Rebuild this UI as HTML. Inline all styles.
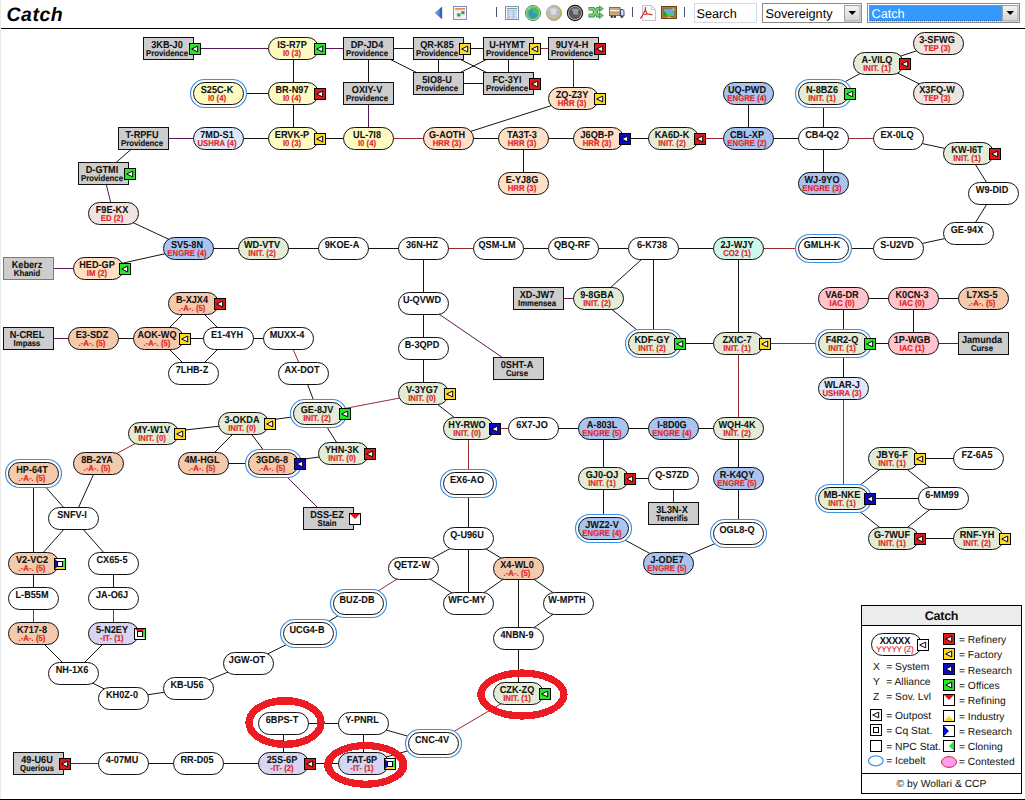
<!DOCTYPE html>
<html><head><meta charset="utf-8"><title>Catch</title>
<style>
html,body{margin:0;padding:0;background:#fff;}
body{width:1025px;height:800px;overflow:hidden;position:relative;}
svg{position:absolute;left:0;top:0;display:block;}
text{font-family:"Liberation Sans",sans-serif;text-rendering:geometricPrecision;}
.ss{font-size:10.1px;font-weight:bold;fill:#111;stroke:#111;stroke-width:0.08px;text-anchor:middle;}
.st{font-size:8.5px;font-weight:bold;fill:#e01e24;stroke:#e01e24;stroke-width:0.15px;text-anchor:middle;}
.sb{font-size:8.5px;font-weight:bold;fill:#111;stroke:#111;stroke-width:0.15px;text-anchor:middle;}
.title{font-size:19.5px;letter-spacing:0.5px;font-weight:bold;font-style:italic;fill:#000;}
.inp{font-size:12.7px;fill:#000;}
.lh{font-size:12.6px;letter-spacing:-0.3px;font-weight:bold;fill:#111;text-anchor:middle;}
.lt{font-size:10.3px;fill:#111;}
.lf{font-size:10.3px;fill:#111;text-anchor:middle;}
.lx{font-size:9px;fill:#111;text-anchor:middle;}
.ly{font-size:8.1px;fill:#e01e24;stroke:#e01e24;stroke-width:0.15px;text-anchor:middle;}
</style></head>
<body>
<svg width="1025" height="800" viewBox="0 0 1025 800">
<rect x="0" y="0" width="1" height="800" fill="#eaeaea"/>
<text x="6.5" y="21" class="title">Catch</text>
<line x1="1" y1="28.5" x2="1025" y2="28.5" stroke="#000"/>
<defs><linearGradient id="gb" x1="0" y1="0" x2="1" y2="0"><stop offset="0" stop-color="#8ab8f0"/><stop offset="0.6" stop-color="#4a88dc"/><stop offset="1" stop-color="#1a3c9c"/></linearGradient><radialGradient id="g1" cx="0.45" cy="0.5" r="0.55"><stop offset="0" stop-color="#3a8ed8"/><stop offset="0.55" stop-color="#3aa0c0"/><stop offset="0.8" stop-color="#4ac860"/><stop offset="1" stop-color="#a8e8a0"/></radialGradient><radialGradient id="g2" cx="0.35" cy="0.35" r="0.75"><stop offset="0" stop-color="#e4e4ec"/><stop offset="0.5" stop-color="#c0c0c8"/><stop offset="0.8" stop-color="#c8c070"/><stop offset="1" stop-color="#a89a30"/></radialGradient><radialGradient id="g3" cx="0.4" cy="0.4" r="0.7"><stop offset="0" stop-color="#c8c8c8"/><stop offset="0.5" stop-color="#8a8a8a"/><stop offset="0.85" stop-color="#5a5a5a"/><stop offset="1" stop-color="#d0d0d0"/></radialGradient><linearGradient id="gbtn" x1="0" y1="0" x2="0" y2="1"><stop offset="0" stop-color="#f4f4f4"/><stop offset="1" stop-color="#d4d4d4"/></linearGradient><linearGradient id="gor" x1="0" y1="0" x2="0" y2="1"><stop offset="0" stop-color="#f07a3a"/><stop offset="1" stop-color="#f8b888"/></linearGradient></defs>
<path d="M435.2,12.9 L441.8,7.1 L441.8,18.8 Z" fill="url(#gb)" stroke="#2a4ca8" stroke-width="0.5"/>
<rect x="453.5" y="6.5" width="13" height="13" fill="#f6faff" stroke="#7a90c0"/>
<rect x="455" y="8" width="10" height="2.2" fill="url(#gor)"/>
<line x1="455" y1="11.5" x2="465" y2="11.5" stroke="#d8e4f0" stroke-width="0.8"/>
<line x1="455" y1="13.5" x2="465" y2="13.5" stroke="#d8e4f0" stroke-width="0.8"/>
<line x1="455" y1="15.5" x2="465" y2="15.5" stroke="#d8e4f0" stroke-width="0.8"/>
<line x1="455" y1="17.5" x2="465" y2="17.5" stroke="#d8e4f0" stroke-width="0.8"/>
<rect x="457.2" y="13.3" width="3.2" height="3.2" fill="#3c9a4c"/>
<rect x="461.3" y="11.2" width="3.2" height="3" fill="#3c9a4c"/>
<line x1="496.5" y1="7" x2="496.5" y2="17" stroke="#4a5470"/>
<line x1="632.5" y1="7" x2="632.5" y2="17" stroke="#4a5470"/>
<line x1="684.5" y1="7" x2="684.5" y2="17" stroke="#4a5470"/>
<rect x="505.5" y="6.5" width="13" height="13" fill="#f2f6ff" stroke="#8090c0"/>
<line x1="507" y1="8.6" x2="517" y2="8.6" stroke="#6aa070" stroke-width="1"/>
<line x1="507" y1="10.3" x2="517" y2="10.3" stroke="#98a8c8" stroke-width="0.8"/>
<line x1="507" y1="12.2" x2="517" y2="12.2" stroke="#a8b8d8" stroke-width="0.9"/>
<line x1="507" y1="14.2" x2="517" y2="14.2" stroke="#a8b8d8" stroke-width="0.9"/>
<line x1="507" y1="16.2" x2="517" y2="16.2" stroke="#a8b8d8" stroke-width="0.9"/>
<line x1="507" y1="18.0" x2="517" y2="18.0" stroke="#a8b8d8" stroke-width="0.9"/>
<line x1="508.3" y1="10.5" x2="508.3" y2="18.5" stroke="#a0b0d0" stroke-width="0.9"/>
<line x1="513.3" y1="10.5" x2="513.3" y2="18.5" stroke="#a0b0d0" stroke-width="0.9"/>
<circle cx="533" cy="13" r="7.6" fill="#98dc94" stroke="#3c7c3c" stroke-width="0.8"/>
<circle cx="533" cy="13" r="6.1" fill="#44c05c"/>
<path d="M531.2,8.2 Q533.5,10 532.2,12.2 Q534.5,14 533.5,18.8 Q531,18.6 529.6,16.5 Q528.2,13 529.5,10.5 Q530.2,9 531.2,8.2 Z" fill="#3a8cd4"/>
<path d="M533.6,12.8 Q536,13.5 537.6,15.5 Q536.2,17.5 534.2,18.4 Q534.8,15.5 533.6,12.8 Z" fill="#3a8cd4"/>
<path d="M528.2,10.5 Q529.5,8.2 531.5,7.6 Q530,10 528.2,10.5 Z" fill="#b8ecb0"/>
<circle cx="554" cy="13" r="7.6" fill="#c4b44c" stroke="#9a9a80" stroke-width="0.7"/>
<circle cx="553.4" cy="12.4" r="6.6" fill="#bcbcc2"/>
<path d="M549,9.5 Q551.5,10.5 550.8,13.5 Q553,15.5 556,14.5 Q555,12 557.5,9.5 Q553.5,7 549,9.5 Z" fill="#dcdce2"/>
<circle cx="575" cy="13" r="7.6" fill="#c8c8c8" stroke="#141414" stroke-width="1.2"/>
<circle cx="575" cy="13" r="6.2" fill="#5a5a5c"/>
<path d="M571,9.5 Q573.5,10.5 573,13.5 Q575,15.5 578.5,14.5 Q577,12 579.5,9.8 Q575.5,7.5 571,9.5 Z" fill="#9a9a9c"/>
<path d="M588.5,8.8 L593.2,8.8 L597.6,15.6 L600.4,15.6" fill="none" stroke="#2c8a3c" stroke-width="3.6"/>
<path d="M588.5,15.6 L593.2,15.6 L597.6,8.8 L600.4,8.8" fill="none" stroke="#2c8a3c" stroke-width="3.6"/>
<path d="M588.5,8.8 L593.2,8.8 L597.6,15.6 L600.4,15.6" fill="none" stroke="#80d080" stroke-width="2"/>
<path d="M588.5,15.6 L593.2,15.6 L597.6,8.8 L600.4,8.8" fill="none" stroke="#80d080" stroke-width="2"/>
<path d="M599.5,5.8 L603.4,8.8 L599.5,11.8 Z M599.5,12.6 L603.4,15.6 L599.5,18.6 Z" fill="#6cc46c" stroke="#2c8a3c" stroke-width="0.6"/>
<rect x="609.5" y="7.5" width="10.5" height="8" fill="#d8a868" stroke="#8a6030" stroke-width="0.9"/>
<rect x="610" y="10" width="9.5" height="1.6" fill="#fafaf0"/>
<rect x="610" y="11.6" width="9.5" height="0.8" fill="#7a8aa8"/>
<path d="M620.5,9.5 L623,9.5 L624,11 L624,16 L620.5,16 Z" fill="#cce0f8" stroke="#2a3a78" stroke-width="0.9"/>
<circle cx="611.8" cy="16.8" r="1.3" fill="#3a3a40"/><circle cx="614.8" cy="16.8" r="1.3" fill="#3a3a40"/><circle cx="621.8" cy="16.8" r="1.3" fill="#3a3a40"/>
<path d="M642.5,5.5 L651.5,5.5 L655.5,9.5 L655.5,20.5 L642.5,20.5 Z" fill="#fcfcfc" stroke="#c4c4c4"/>
<path d="M651.5,5.5 L651.5,9.5 L655.5,9.5" fill="none" stroke="#d0d0d0"/>
<path d="M640.3,18.6 Q643.5,14.5 645,10.5 Q645.8,8 645.2,7.2 M645.2,7.8 Q645.3,11 647,13.5 Q649.5,15 652.5,14.8 M644.2,14.6 Q648,13.4 652.2,14.8" fill="none" stroke="#c8282c" stroke-width="1.1"/>
<rect x="661.5" y="6.5" width="15" height="12" fill="#b07a34" stroke="#6a4416"/>
<rect x="663.5" y="8.5" width="11" height="7.5" fill="#5aaee8" stroke="#8a5a20" stroke-width="0.6"/>
<path d="M672,8.6 L674.4,8.6 L674.4,11 Z" fill="#f8e070"/>
<path d="M663.6,15.9 L663.6,10.5 Q667,12 669,13.5 Q672,15 674.4,14.4 L674.4,15.9 Z" fill="#58c84a"/>
<path d="M663.6,10.5 Q666,12.5 667.5,15.9 L663.6,15.9 Z" fill="#2a9a3a"/>
<rect x="667.3" y="16.8" width="3.4" height="1" fill="#f0d890"/>
<rect x="694.5" y="3.5" width="62" height="19" fill="#fff" stroke="#d4d8e0"/>
<text x="696.5" y="17.6" class="inp">Search</text>
<rect x="762.5" y="3.5" width="99" height="19" fill="#fff" stroke="#8a8a8a"/>
<text x="765.5" y="17.6" class="inp">Sovereignty</text>
<rect x="844.5" y="5.5" width="15.5" height="15.5" fill="url(#gbtn)" stroke="#a0a0a0"/>
<path d="M848.5,11 L856,11 L852.25,15 Z" fill="#000"/>
<rect x="867.5" y="3.5" width="152" height="19" fill="#fff" stroke="#8a8a8a"/>
<rect x="869.5" y="5.5" width="132" height="15.5" fill="#3399ff"/>
<rect x="869.5" y="5.5" width="132" height="15.5" fill="none" stroke="#1a4a88" stroke-dasharray="1,1" stroke-width="0.8"/>
<text x="871.5" y="17.6" class="inp" fill="#fff" style="fill:#fff">Catch</text>
<rect x="1002.5" y="5.5" width="15.5" height="15.5" fill="url(#gbtn)" stroke="#a0a0a0"/>
<path d="M1006.5,11 L1014,11 L1010.25,15 Z" fill="#000"/>
<g>
<line x1="168.5" y1="48.5" x2="293.5" y2="48.5" stroke="#581a54"/>
<line x1="293.5" y1="48.5" x2="368.5" y2="48.5" stroke="#581a54"/>
<line x1="293.5" y1="48.5" x2="293.5" y2="93.5" stroke="#141414"/>
<line x1="368.5" y1="48.5" x2="438.5" y2="48.5" stroke="#141414"/>
<line x1="368.5" y1="48.5" x2="438.5" y2="83.5" stroke="#141414"/>
<line x1="368.5" y1="48.5" x2="368.5" y2="93.5" stroke="#141414"/>
<line x1="438.5" y1="48.5" x2="508.5" y2="48.5" stroke="#141414"/>
<line x1="438.5" y1="48.5" x2="438.5" y2="83.5" stroke="#141414"/>
<line x1="438.5" y1="48.5" x2="508.5" y2="83.5" stroke="#141414"/>
<line x1="508.5" y1="48.5" x2="438.5" y2="83.5" stroke="#141414"/>
<line x1="508.5" y1="48.5" x2="508.5" y2="83.5" stroke="#141414"/>
<line x1="438.5" y1="83.5" x2="508.5" y2="83.5" stroke="#141414"/>
<line x1="508.5" y1="48.5" x2="573.5" y2="48.5" stroke="#962a30"/>
<line x1="573.5" y1="48.5" x2="573.5" y2="98.5" stroke="#581a54"/>
<line x1="218.5" y1="93.5" x2="293.5" y2="93.5" stroke="#141414"/>
<line x1="293.5" y1="93.5" x2="293.5" y2="138.5" stroke="#141414"/>
<line x1="368.5" y1="93.5" x2="368.5" y2="138.5" stroke="#581a54"/>
<line x1="143.5" y1="138.5" x2="218.5" y2="138.5" stroke="#581a54"/>
<line x1="218.5" y1="138.5" x2="293.5" y2="138.5" stroke="#141414"/>
<line x1="293.5" y1="138.5" x2="368.5" y2="138.5" stroke="#141414"/>
<line x1="368.5" y1="138.5" x2="448.5" y2="138.5" stroke="#962a30"/>
<line x1="573.5" y1="98.5" x2="448.5" y2="138.5" stroke="#141414"/>
<line x1="448.5" y1="138.5" x2="523.5" y2="138.5" stroke="#141414"/>
<line x1="523.5" y1="138.5" x2="598.5" y2="138.5" stroke="#141414"/>
<line x1="523.5" y1="138.5" x2="523.5" y2="183.5" stroke="#141414"/>
<line x1="598.5" y1="138.5" x2="673.5" y2="138.5" stroke="#141414"/>
<line x1="673.5" y1="138.5" x2="748.5" y2="138.5" stroke="#962a30"/>
<line x1="748.5" y1="138.5" x2="748.5" y2="93.5" stroke="#141414"/>
<line x1="748.5" y1="138.5" x2="823.5" y2="138.5" stroke="#141414"/>
<line x1="823.5" y1="138.5" x2="823.5" y2="93.5" stroke="#141414"/>
<line x1="823.5" y1="93.5" x2="878.5" y2="63.5" stroke="#141414"/>
<line x1="878.5" y1="63.5" x2="938.5" y2="43.5" stroke="#141414"/>
<line x1="878.5" y1="63.5" x2="938.5" y2="93.5" stroke="#141414"/>
<line x1="823.5" y1="138.5" x2="898.5" y2="138.5" stroke="#962a30"/>
<line x1="823.5" y1="138.5" x2="823.5" y2="183.5" stroke="#141414"/>
<line x1="898.5" y1="138.5" x2="968.5" y2="153.5" stroke="#141414"/>
<line x1="968.5" y1="153.5" x2="993.5" y2="193.5" stroke="#141414"/>
<line x1="993.5" y1="193.5" x2="968.5" y2="233.5" stroke="#141414"/>
<line x1="968.5" y1="233.5" x2="898.5" y2="248.5" stroke="#141414"/>
<line x1="898.5" y1="248.5" x2="823.5" y2="248.5" stroke="#141414"/>
<line x1="823.5" y1="248.5" x2="738.5" y2="248.5" stroke="#962a30"/>
<line x1="738.5" y1="248.5" x2="653.5" y2="248.5" stroke="#141414"/>
<line x1="143.5" y1="138.5" x2="103.5" y2="173.5" stroke="#141414"/>
<line x1="103.5" y1="173.5" x2="113.5" y2="213.5" stroke="#581a54"/>
<line x1="113.5" y1="213.5" x2="188.5" y2="248.5" stroke="#141414"/>
<line x1="188.5" y1="248.5" x2="98.5" y2="268.5" stroke="#141414"/>
<line x1="98.5" y1="268.5" x2="28.5" y2="268.5" stroke="#581a54"/>
<line x1="188.5" y1="248.5" x2="263.5" y2="248.5" stroke="#141414"/>
<line x1="263.5" y1="248.5" x2="343.5" y2="248.5" stroke="#141414"/>
<line x1="343.5" y1="248.5" x2="423.5" y2="248.5" stroke="#141414"/>
<line x1="423.5" y1="248.5" x2="498.5" y2="248.5" stroke="#962a30"/>
<line x1="498.5" y1="248.5" x2="573.5" y2="248.5" stroke="#141414"/>
<line x1="573.5" y1="248.5" x2="653.5" y2="248.5" stroke="#141414"/>
<line x1="653.5" y1="248.5" x2="598.5" y2="298.5" stroke="#141414"/>
<line x1="653.5" y1="248.5" x2="653.5" y2="343.5" stroke="#141414"/>
<line x1="598.5" y1="298.5" x2="653.5" y2="343.5" stroke="#141414"/>
<line x1="538.5" y1="298.5" x2="598.5" y2="298.5" stroke="#581a54"/>
<line x1="653.5" y1="343.5" x2="738.5" y2="343.5" stroke="#141414"/>
<line x1="738.5" y1="248.5" x2="738.5" y2="343.5" stroke="#141414"/>
<line x1="738.5" y1="343.5" x2="843.5" y2="343.5" stroke="#962a30"/>
<line x1="738.5" y1="343.5" x2="738.5" y2="428.5" stroke="#962a30"/>
<line x1="843.5" y1="343.5" x2="843.5" y2="298.5" stroke="#141414"/>
<line x1="843.5" y1="343.5" x2="913.5" y2="343.5" stroke="#141414"/>
<line x1="843.5" y1="343.5" x2="843.5" y2="388.5" stroke="#141414"/>
<line x1="843.5" y1="298.5" x2="913.5" y2="298.5" stroke="#141414"/>
<line x1="913.5" y1="298.5" x2="983.5" y2="298.5" stroke="#141414"/>
<line x1="913.5" y1="298.5" x2="913.5" y2="343.5" stroke="#141414"/>
<line x1="913.5" y1="343.5" x2="983.5" y2="343.5" stroke="#581a54"/>
<line x1="843.5" y1="388.5" x2="843.5" y2="498.5" stroke="#962a30"/>
<line x1="843.5" y1="498.5" x2="893.5" y2="458.5" stroke="#141414"/>
<line x1="843.5" y1="498.5" x2="943.5" y2="498.5" stroke="#141414"/>
<line x1="843.5" y1="498.5" x2="893.5" y2="538.5" stroke="#141414"/>
<line x1="893.5" y1="458.5" x2="978.5" y2="458.5" stroke="#141414"/>
<line x1="893.5" y1="458.5" x2="943.5" y2="498.5" stroke="#141414"/>
<line x1="893.5" y1="538.5" x2="943.5" y2="498.5" stroke="#141414"/>
<line x1="893.5" y1="538.5" x2="978.5" y2="538.5" stroke="#141414"/>
<line x1="423.5" y1="248.5" x2="423.5" y2="303.5" stroke="#141414"/>
<line x1="423.5" y1="303.5" x2="423.5" y2="348.5" stroke="#141414"/>
<line x1="423.5" y1="303.5" x2="518.5" y2="368.5" stroke="#581a54"/>
<line x1="423.5" y1="348.5" x2="423.5" y2="393.5" stroke="#141414"/>
<line x1="423.5" y1="393.5" x2="318.5" y2="413.5" stroke="#962a30"/>
<line x1="423.5" y1="393.5" x2="468.5" y2="428.5" stroke="#141414"/>
<line x1="318.5" y1="413.5" x2="303.5" y2="373.5" stroke="#141414"/>
<line x1="303.5" y1="373.5" x2="288.5" y2="338.5" stroke="#962a30"/>
<line x1="288.5" y1="338.5" x2="228.5" y2="338.5" stroke="#141414"/>
<line x1="228.5" y1="338.5" x2="158.5" y2="338.5" stroke="#141414"/>
<line x1="228.5" y1="338.5" x2="193.5" y2="303.5" stroke="#141414"/>
<line x1="228.5" y1="338.5" x2="193.5" y2="373.5" stroke="#141414"/>
<line x1="158.5" y1="338.5" x2="193.5" y2="303.5" stroke="#141414"/>
<line x1="158.5" y1="338.5" x2="193.5" y2="373.5" stroke="#141414"/>
<line x1="158.5" y1="338.5" x2="93.5" y2="338.5" stroke="#141414"/>
<line x1="93.5" y1="338.5" x2="28.5" y2="338.5" stroke="#581a54"/>
<line x1="318.5" y1="413.5" x2="243.5" y2="423.5" stroke="#141414"/>
<line x1="318.5" y1="413.5" x2="343.5" y2="453.5" stroke="#141414"/>
<line x1="243.5" y1="423.5" x2="153.5" y2="433.5" stroke="#141414"/>
<line x1="243.5" y1="423.5" x2="203.5" y2="463.5" stroke="#141414"/>
<line x1="243.5" y1="423.5" x2="273.5" y2="463.5" stroke="#141414"/>
<line x1="273.5" y1="463.5" x2="203.5" y2="463.5" stroke="#141414"/>
<line x1="273.5" y1="463.5" x2="343.5" y2="453.5" stroke="#141414"/>
<line x1="273.5" y1="463.5" x2="328.5" y2="518.5" stroke="#581a54"/>
<line x1="153.5" y1="433.5" x2="98.5" y2="463.5" stroke="#962a30"/>
<line x1="98.5" y1="463.5" x2="73.5" y2="518.5" stroke="#141414"/>
<line x1="33.5" y1="473.5" x2="73.5" y2="518.5" stroke="#141414"/>
<line x1="33.5" y1="473.5" x2="33.5" y2="563.5" stroke="#141414"/>
<line x1="73.5" y1="518.5" x2="33.5" y2="563.5" stroke="#141414"/>
<line x1="73.5" y1="518.5" x2="113.5" y2="563.5" stroke="#141414"/>
<line x1="33.5" y1="563.5" x2="33.5" y2="598.5" stroke="#141414"/>
<line x1="113.5" y1="563.5" x2="113.5" y2="598.5" stroke="#141414"/>
<line x1="33.5" y1="598.5" x2="33.5" y2="633.5" stroke="#962a30"/>
<line x1="113.5" y1="598.5" x2="113.5" y2="633.5" stroke="#962a30"/>
<line x1="33.5" y1="633.5" x2="73.5" y2="673.5" stroke="#141414"/>
<line x1="113.5" y1="633.5" x2="73.5" y2="673.5" stroke="#141414"/>
<line x1="73.5" y1="673.5" x2="123.5" y2="698.5" stroke="#141414"/>
<line x1="123.5" y1="698.5" x2="188.5" y2="688.5" stroke="#141414"/>
<line x1="188.5" y1="688.5" x2="248.5" y2="663.5" stroke="#141414"/>
<line x1="248.5" y1="663.5" x2="308.5" y2="633.5" stroke="#141414"/>
<line x1="308.5" y1="633.5" x2="358.5" y2="603.5" stroke="#141414"/>
<line x1="358.5" y1="603.5" x2="413.5" y2="568.5" stroke="#962a30"/>
<line x1="413.5" y1="568.5" x2="468.5" y2="538.5" stroke="#141414"/>
<line x1="413.5" y1="568.5" x2="468.5" y2="603.5" stroke="#141414"/>
<line x1="468.5" y1="538.5" x2="468.5" y2="603.5" stroke="#141414"/>
<line x1="468.5" y1="538.5" x2="518.5" y2="568.5" stroke="#141414"/>
<line x1="468.5" y1="538.5" x2="468.5" y2="483.5" stroke="#141414"/>
<line x1="468.5" y1="483.5" x2="468.5" y2="428.5" stroke="#962a30"/>
<line x1="468.5" y1="428.5" x2="533.5" y2="428.5" stroke="#962a30"/>
<line x1="533.5" y1="428.5" x2="603.5" y2="428.5" stroke="#141414"/>
<line x1="603.5" y1="428.5" x2="673.5" y2="428.5" stroke="#141414"/>
<line x1="673.5" y1="428.5" x2="738.5" y2="428.5" stroke="#141414"/>
<line x1="603.5" y1="428.5" x2="603.5" y2="478.5" stroke="#141414"/>
<line x1="603.5" y1="478.5" x2="673.5" y2="478.5" stroke="#141414"/>
<line x1="603.5" y1="478.5" x2="603.5" y2="528.5" stroke="#141414"/>
<line x1="673.5" y1="478.5" x2="673.5" y2="513.5" stroke="#581a54"/>
<line x1="603.5" y1="528.5" x2="668.5" y2="563.5" stroke="#141414"/>
<line x1="668.5" y1="563.5" x2="738.5" y2="533.5" stroke="#141414"/>
<line x1="738.5" y1="533.5" x2="738.5" y2="478.5" stroke="#141414"/>
<line x1="738.5" y1="478.5" x2="738.5" y2="428.5" stroke="#141414"/>
<line x1="468.5" y1="603.5" x2="518.5" y2="568.5" stroke="#141414"/>
<line x1="518.5" y1="568.5" x2="568.5" y2="603.5" stroke="#141414"/>
<line x1="518.5" y1="568.5" x2="518.5" y2="638.5" stroke="#141414"/>
<line x1="568.5" y1="603.5" x2="518.5" y2="638.5" stroke="#141414"/>
<line x1="518.5" y1="638.5" x2="518.5" y2="693.5" stroke="#141414"/>
<line x1="518.5" y1="693.5" x2="433.5" y2="743.5" stroke="#962a30"/>
<line x1="433.5" y1="743.5" x2="363.5" y2="723.5" stroke="#141414"/>
<line x1="433.5" y1="743.5" x2="363.5" y2="763.5" stroke="#141414"/>
<line x1="363.5" y1="723.5" x2="283.5" y2="723.5" stroke="#141414"/>
<line x1="363.5" y1="723.5" x2="363.5" y2="763.5" stroke="#141414"/>
<line x1="283.5" y1="723.5" x2="283.5" y2="763.5" stroke="#141414"/>
<line x1="283.5" y1="763.5" x2="363.5" y2="763.5" stroke="#141414"/>
<line x1="283.5" y1="763.5" x2="198.5" y2="763.5" stroke="#141414"/>
<line x1="198.5" y1="763.5" x2="123.5" y2="763.5" stroke="#141414"/>
<line x1="123.5" y1="763.5" x2="38.5" y2="763.5" stroke="#581a54"/>
<rect x="143.5" y="37.5" width="50" height="22" fill="#cdcdcd" stroke="#111"/>
<text transform="translate(167.0,48.0) scale(0.905,1)" class="ss">3KB-J0</text>
<text transform="translate(167.0,55.8) scale(0.915,1)" class="sb">Providence</text>
<rect x="189.5" y="43.5" width="11" height="11" fill="#28e628" stroke="#000"/><path d="M191.7,49.0 L197.7,46.1 L197.7,51.9 Z" fill="#fff" stroke="#000" stroke-width="1"/>
<rect x="343.5" y="37.5" width="50" height="22" fill="#cdcdcd" stroke="#111"/>
<text transform="translate(367.0,48.0) scale(0.905,1)" class="ss">DP-JD4</text>
<text transform="translate(367.0,55.8) scale(0.915,1)" class="sb">Providence</text>
<rect x="413.5" y="37.5" width="50" height="22" fill="#cdcdcd" stroke="#111"/>
<text transform="translate(437.0,48.0) scale(0.905,1)" class="ss">QR-K85</text>
<text transform="translate(437.0,55.8) scale(0.915,1)" class="sb">Providence</text>
<rect x="459.5" y="43.5" width="11" height="11" fill="#ffd820" stroke="#000"/><path d="M461.7,49.0 L467.7,46.1 L467.7,51.9 Z" fill="#fff" stroke="#000" stroke-width="1"/>
<rect x="483.5" y="37.5" width="50" height="22" fill="#cdcdcd" stroke="#111"/>
<text transform="translate(507.0,48.0) scale(0.905,1)" class="ss">U-HYMT</text>
<text transform="translate(507.0,55.8) scale(0.915,1)" class="sb">Providence</text>
<rect x="529.5" y="43.5" width="11" height="11" fill="#ffd820" stroke="#000"/><path d="M531.7,49.0 L537.7,46.1 L537.7,51.9 Z" fill="#fff" stroke="#000" stroke-width="1"/>
<rect x="548.5" y="37.5" width="50" height="22" fill="#cdcdcd" stroke="#111"/>
<text transform="translate(572.0,48.0) scale(0.905,1)" class="ss">9UY4-H</text>
<text transform="translate(572.0,55.8) scale(0.915,1)" class="sb">Providence</text>
<rect x="594.5" y="43.5" width="11" height="11" fill="#e01818" stroke="#000"/><path d="M596.7,49.0 L602.7,46.1 L602.7,51.9 Z" fill="#fff" stroke="#000" stroke-width="1"/>
<rect x="413.5" y="72.5" width="50" height="22" fill="#cdcdcd" stroke="#111"/>
<text transform="translate(437.0,83.0) scale(0.905,1)" class="ss">5IO8-U</text>
<text transform="translate(437.0,90.8) scale(0.915,1)" class="sb">Providence</text>
<rect x="483.5" y="72.5" width="50" height="22" fill="#cdcdcd" stroke="#111"/>
<text transform="translate(507.0,83.0) scale(0.905,1)" class="ss">FC-3YI</text>
<text transform="translate(507.0,90.8) scale(0.915,1)" class="sb">Providence</text>
<rect x="529.5" y="78.5" width="11" height="11" fill="#e01818" stroke="#000"/><path d="M531.7,84.0 L537.7,81.1 L537.7,86.9 Z" fill="#fff" stroke="#000" stroke-width="1"/>
<rect x="343.5" y="82.5" width="50" height="22" fill="#cdcdcd" stroke="#111"/>
<text transform="translate(367.0,93.0) scale(0.905,1)" class="ss">OXIY-V</text>
<text transform="translate(367.0,100.8) scale(0.915,1)" class="sb">Providence</text>
<rect x="118.5" y="127.5" width="50" height="22" fill="#cdcdcd" stroke="#111"/>
<text transform="translate(142.0,138.0) scale(0.905,1)" class="ss">T-RPFU</text>
<text transform="translate(142.0,145.8) scale(0.915,1)" class="sb">Providence</text>
<rect x="78.5" y="162.5" width="50" height="22" fill="#cdcdcd" stroke="#111"/>
<text transform="translate(102.0,173.0) scale(0.905,1)" class="ss">D-GTMI</text>
<text transform="translate(102.0,180.8) scale(0.915,1)" class="sb">Providence</text>
<rect x="124.5" y="168.5" width="11" height="11" fill="#28e628" stroke="#000"/><path d="M126.7,174.0 L132.7,171.1 L132.7,176.9 Z" fill="#fff" stroke="#000" stroke-width="1"/>
<rect x="3.5" y="257.5" width="50" height="22" fill="#cdcdcd" stroke="#3aa83a"/>
<text transform="translate(27.0,268.0) scale(0.905,1)" class="ss">Keberz</text>
<text transform="translate(27.0,275.8) scale(0.915,1)" class="sb">Khanid</text>
<rect x="3.5" y="327.5" width="50" height="22" fill="#cdcdcd" stroke="#111"/>
<text transform="translate(27.0,338.0) scale(0.905,1)" class="ss">N-CREL</text>
<text transform="translate(27.0,345.8) scale(0.915,1)" class="sb">Impass</text>
<rect x="513.5" y="287.5" width="50" height="22" fill="#cdcdcd" stroke="#111"/>
<text transform="translate(537.0,298.0) scale(0.905,1)" class="ss">XD-JW7</text>
<text transform="translate(537.0,305.8) scale(0.915,1)" class="sb">Immensea</text>
<rect x="493.5" y="357.5" width="50" height="22" fill="#cdcdcd" stroke="#111"/>
<text transform="translate(517.0,368.0) scale(0.905,1)" class="ss">0SHT-A</text>
<text transform="translate(517.0,375.8) scale(0.915,1)" class="sb">Curse</text>
<rect x="303.5" y="507.5" width="50" height="22" fill="#cdcdcd" stroke="#111"/>
<text transform="translate(327.0,518.0) scale(0.905,1)" class="ss">DSS-EZ</text>
<text transform="translate(327.0,525.8) scale(0.915,1)" class="sb">Stain</text>
<rect x="349.5" y="513.5" width="11" height="11" fill="#fff" stroke="#000"/><path d="M349.5,513.5 L360.5,513.5 L355.0,519.0 Z" fill="#e41414"/><rect x="349.5" y="513.5" width="11" height="11" fill="none" stroke="#000"/>
<rect x="648.5" y="502.5" width="50" height="22" fill="#cdcdcd" stroke="#111"/>
<text transform="translate(672.0,513.0) scale(0.905,1)" class="ss">3L3N-X</text>
<text transform="translate(672.0,520.8) scale(0.915,1)" class="sb">Tenerifis</text>
<rect x="958.5" y="332.5" width="50" height="22" fill="#cdcdcd" stroke="#111"/>
<text transform="translate(982.0,343.0) scale(0.905,1)" class="ss">Jamunda</text>
<text transform="translate(982.0,350.8) scale(0.915,1)" class="sb">Curse</text>
<rect x="13.5" y="752.5" width="50" height="22" fill="#cdcdcd" stroke="#111"/>
<text transform="translate(37.0,763.0) scale(0.905,1)" class="ss">49-U6U</text>
<text transform="translate(37.0,770.8) scale(0.915,1)" class="sb">Querious</text>
<rect x="59.5" y="758.5" width="11" height="11" fill="#e01818" stroke="#000"/><path d="M61.7,764.0 L67.7,761.1 L67.7,766.9 Z" fill="#fff" stroke="#000" stroke-width="1"/>
<rect x="268.5" y="37.5" width="50" height="22" rx="11" fill="#fefbc2" stroke="#111"/>
<text transform="translate(292.0,48.0) scale(0.905,1)" class="ss">IS-R7P</text>
<text transform="translate(292.0,55.8) scale(0.915,1)" class="st">I0 (3)</text>
<rect x="314.5" y="43.5" width="11" height="11" fill="#28e628" stroke="#000"/><path d="M316.7,49.0 L322.7,46.1 L322.7,51.9 Z" fill="#fff" stroke="#000" stroke-width="1"/>
<rect x="190.5" y="79.5" width="56" height="28" rx="14" fill="#fff" stroke="#3f8fe2" stroke-width="1.2"/>
<rect x="193.5" y="82.5" width="50" height="22" rx="11" fill="#fefbc2" stroke="#111"/>
<text transform="translate(217.0,93.0) scale(0.905,1)" class="ss">S25C-K</text>
<text transform="translate(217.0,100.8) scale(0.915,1)" class="st">I0 (4)</text>
<rect x="268.5" y="82.5" width="50" height="22" rx="11" fill="#fefbc2" stroke="#111"/>
<text transform="translate(292.0,93.0) scale(0.905,1)" class="ss">BR-N97</text>
<text transform="translate(292.0,100.8) scale(0.915,1)" class="st">I0 (4)</text>
<rect x="314.5" y="88.5" width="11" height="11" fill="#e01818" stroke="#000"/><path d="M316.7,94.0 L322.7,91.1 L322.7,96.9 Z" fill="#fff" stroke="#000" stroke-width="1"/>
<rect x="193.5" y="127.5" width="50" height="22" rx="11" fill="#dde9fa" stroke="#111"/>
<text transform="translate(217.0,138.0) scale(0.905,1)" class="ss">7MD-S1</text>
<text transform="translate(217.0,145.8) scale(0.915,1)" class="st">USHRA (4)</text>
<rect x="268.5" y="127.5" width="50" height="22" rx="11" fill="#fefbc2" stroke="#111"/>
<text transform="translate(292.0,138.0) scale(0.905,1)" class="ss">ERVK-P</text>
<text transform="translate(292.0,145.8) scale(0.915,1)" class="st">I0 (3)</text>
<rect x="314.5" y="133.5" width="11" height="11" fill="#ffd820" stroke="#000"/><path d="M316.7,139.0 L322.7,136.1 L322.7,141.9 Z" fill="#fff" stroke="#000" stroke-width="1"/>
<rect x="343.5" y="127.5" width="50" height="22" rx="11" fill="#fefbc2" stroke="#111"/>
<text transform="translate(367.0,138.0) scale(0.905,1)" class="ss">UL-7I8</text>
<text transform="translate(367.0,145.8) scale(0.915,1)" class="st">I0 (4)</text>
<rect x="423.5" y="127.5" width="50" height="22" rx="11" fill="#fde0c6" stroke="#111"/>
<text transform="translate(447.0,138.0) scale(0.905,1)" class="ss">G-AOTH</text>
<text transform="translate(447.0,145.8) scale(0.915,1)" class="st">HRR (3)</text>
<rect x="498.5" y="127.5" width="50" height="22" rx="11" fill="#fde0c6" stroke="#111"/>
<text transform="translate(522.0,138.0) scale(0.905,1)" class="ss">TA3T-3</text>
<text transform="translate(522.0,145.8) scale(0.915,1)" class="st">HRR (3)</text>
<rect x="573.5" y="127.5" width="50" height="22" rx="11" fill="#fde0c6" stroke="#111"/>
<text transform="translate(597.0,138.0) scale(0.905,1)" class="ss">J6QB-P</text>
<text transform="translate(597.0,145.8) scale(0.915,1)" class="st">HRR (3)</text>
<rect x="619.5" y="133.5" width="11" height="11" fill="#0a0ac8" stroke="#000"/><path d="M621.7,139.0 L627.7,136.1 L627.7,141.9 Z" fill="#fff" stroke="#000" stroke-width="1"/>
<rect x="548.5" y="87.5" width="50" height="22" rx="11" fill="#fde0c6" stroke="#111"/>
<text transform="translate(572.0,98.0) scale(0.905,1)" class="ss">ZQ-Z3Y</text>
<text transform="translate(572.0,105.8) scale(0.915,1)" class="st">HRR (3)</text>
<rect x="594.5" y="93.5" width="11" height="11" fill="#ffd820" stroke="#000"/><path d="M596.7,99.0 L602.7,96.1 L602.7,101.9 Z" fill="#fff" stroke="#000" stroke-width="1"/>
<rect x="498.5" y="172.5" width="50" height="22" rx="11" fill="#fde0c6" stroke="#111"/>
<text transform="translate(522.0,183.0) scale(0.905,1)" class="ss">E-YJ8G</text>
<text transform="translate(522.0,190.8) scale(0.915,1)" class="st">HRR (3)</text>
<rect x="648.5" y="127.5" width="50" height="22" rx="11" fill="#e2ecd6" stroke="#111"/>
<text transform="translate(672.0,138.0) scale(0.905,1)" class="ss">KA6D-K</text>
<text transform="translate(672.0,145.8) scale(0.915,1)" class="st">INIT. (2)</text>
<rect x="694.5" y="133.5" width="11" height="11" fill="#e01818" stroke="#000"/><path d="M696.7,139.0 L702.7,136.1 L702.7,141.9 Z" fill="#fff" stroke="#000" stroke-width="1"/>
<rect x="723.5" y="82.5" width="50" height="22" rx="11" fill="#aac4f0" stroke="#111"/>
<text transform="translate(747.0,93.0) scale(0.905,1)" class="ss">UQ-PWD</text>
<text transform="translate(747.0,100.8) scale(0.915,1)" class="st">ENGRE (4)</text>
<rect x="723.5" y="127.5" width="50" height="22" rx="11" fill="#aac4f0" stroke="#111"/>
<text transform="translate(747.0,138.0) scale(0.905,1)" class="ss">CBL-XP</text>
<text transform="translate(747.0,145.8) scale(0.915,1)" class="st">ENGRE (2)</text>
<rect x="795.5" y="79.5" width="56" height="28" rx="14" fill="#fff" stroke="#3f8fe2" stroke-width="1.2"/>
<rect x="798.5" y="82.5" width="50" height="22" rx="11" fill="#e2ecd6" stroke="#111"/>
<text transform="translate(822.0,93.0) scale(0.905,1)" class="ss">N-8BZ6</text>
<text transform="translate(822.0,100.8) scale(0.915,1)" class="st">INIT. (1)</text>
<rect x="844.5" y="88.5" width="11" height="11" fill="#28e628" stroke="#000"/><path d="M846.7,94.0 L852.7,91.1 L852.7,96.9 Z" fill="#fff" stroke="#000" stroke-width="1"/>
<rect x="853.5" y="52.5" width="50" height="22" rx="11" fill="#e2ecd6" stroke="#111"/>
<text transform="translate(877.0,63.0) scale(0.905,1)" class="ss">A-VILQ</text>
<text transform="translate(877.0,70.8) scale(0.915,1)" class="st">INIT. (1)</text>
<rect x="899.5" y="58.5" width="11" height="11" fill="#e01818" stroke="#000"/><path d="M901.7,64.0 L907.7,61.1 L907.7,66.9 Z" fill="#fff" stroke="#000" stroke-width="1"/>
<rect x="913.5" y="32.5" width="50" height="22" rx="11" fill="#eee5de" stroke="#111"/>
<text transform="translate(937.0,43.0) scale(0.905,1)" class="ss">3-SFWG</text>
<text transform="translate(937.0,50.8) scale(0.915,1)" class="st">TEP (3)</text>
<rect x="913.5" y="82.5" width="50" height="22" rx="11" fill="#eee5de" stroke="#111"/>
<text transform="translate(937.0,93.0) scale(0.905,1)" class="ss">X3FQ-W</text>
<text transform="translate(937.0,100.8) scale(0.915,1)" class="st">TEP (3)</text>
<rect x="798.5" y="127.5" width="50" height="22" rx="11" fill="#ffffff" stroke="#111"/>
<text transform="translate(822.0,138.0) scale(0.905,1)" class="ss">CB4-Q2</text>
<rect x="873.5" y="127.5" width="50" height="22" rx="11" fill="#ffffff" stroke="#111"/>
<text transform="translate(897.0,138.0) scale(0.905,1)" class="ss">EX-0LQ</text>
<rect x="943.5" y="142.5" width="50" height="22" rx="11" fill="#e2ecd6" stroke="#111"/>
<text transform="translate(967.0,153.0) scale(0.905,1)" class="ss">KW-I6T</text>
<text transform="translate(967.0,160.8) scale(0.915,1)" class="st">INIT. (1)</text>
<rect x="989.5" y="148.5" width="11" height="11" fill="#e01818" stroke="#000"/><path d="M991.7,154.0 L997.7,151.1 L997.7,156.9 Z" fill="#fff" stroke="#000" stroke-width="1"/>
<rect x="798.5" y="172.5" width="50" height="22" rx="11" fill="#aac4f0" stroke="#111"/>
<text transform="translate(822.0,183.0) scale(0.905,1)" class="ss">WJ-9YO</text>
<text transform="translate(822.0,190.8) scale(0.915,1)" class="st">ENGRE (3)</text>
<rect x="968.5" y="182.5" width="50" height="22" rx="11" fill="#ffffff" stroke="#111"/>
<text transform="translate(992.0,193.0) scale(0.905,1)" class="ss">W9-DID</text>
<rect x="88.5" y="202.5" width="50" height="22" rx="11" fill="#f2e2e2" stroke="#111"/>
<text transform="translate(112.0,213.0) scale(0.905,1)" class="ss">F9E-KX</text>
<text transform="translate(112.0,220.8) scale(0.915,1)" class="st">ED (2)</text>
<rect x="163.5" y="237.5" width="50" height="22" rx="11" fill="#aac4f0" stroke="#111"/>
<text transform="translate(187.0,248.0) scale(0.905,1)" class="ss">SV5-8N</text>
<text transform="translate(187.0,255.8) scale(0.915,1)" class="st">ENGRE (4)</text>
<rect x="73.5" y="257.5" width="50" height="22" rx="11" fill="#ffe0c2" stroke="#111"/>
<text transform="translate(97.0,268.0) scale(0.905,1)" class="ss">HED-GP</text>
<text transform="translate(97.0,275.8) scale(0.915,1)" class="st">IM (2)</text>
<rect x="119.5" y="263.5" width="11" height="11" fill="#28e628" stroke="#000"/><path d="M121.7,269.0 L127.7,266.1 L127.7,271.9 Z" fill="#fff" stroke="#000" stroke-width="1"/>
<rect x="238.5" y="237.5" width="50" height="22" rx="11" fill="#e2ecd6" stroke="#111"/>
<text transform="translate(262.0,248.0) scale(0.905,1)" class="ss">WD-VTV</text>
<text transform="translate(262.0,255.8) scale(0.915,1)" class="st">INIT. (2)</text>
<rect x="318.5" y="237.5" width="50" height="22" rx="11" fill="#ffffff" stroke="#111"/>
<text transform="translate(342.0,248.0) scale(0.905,1)" class="ss">9KOE-A</text>
<rect x="398.5" y="237.5" width="50" height="22" rx="11" fill="#ffffff" stroke="#111"/>
<text transform="translate(422.0,248.0) scale(0.905,1)" class="ss">36N-HZ</text>
<rect x="473.5" y="237.5" width="50" height="22" rx="11" fill="#ffffff" stroke="#111"/>
<text transform="translate(497.0,248.0) scale(0.905,1)" class="ss">QSM-LM</text>
<rect x="548.5" y="237.5" width="50" height="22" rx="11" fill="#ffffff" stroke="#111"/>
<text transform="translate(572.0,248.0) scale(0.905,1)" class="ss">QBQ-RF</text>
<rect x="628.5" y="237.5" width="50" height="22" rx="11" fill="#ffffff" stroke="#111"/>
<text transform="translate(652.0,248.0) scale(0.905,1)" class="ss">6-K738</text>
<rect x="713.5" y="237.5" width="50" height="22" rx="11" fill="#cff7e8" stroke="#111"/>
<text transform="translate(737.0,248.0) scale(0.905,1)" class="ss">2J-WJY</text>
<text transform="translate(737.0,255.8) scale(0.915,1)" class="st">CO2 (1)</text>
<rect x="795.5" y="234.5" width="56" height="28" rx="14" fill="#fff" stroke="#3f8fe2" stroke-width="1.2"/>
<rect x="798.5" y="237.5" width="50" height="22" rx="11" fill="#ffffff" stroke="#111"/>
<text transform="translate(822.0,248.0) scale(0.905,1)" class="ss">GMLH-K</text>
<rect x="873.5" y="237.5" width="50" height="22" rx="11" fill="#ffffff" stroke="#111"/>
<text transform="translate(897.0,248.0) scale(0.905,1)" class="ss">S-U2VD</text>
<rect x="943.5" y="222.5" width="50" height="22" rx="11" fill="#ffffff" stroke="#111"/>
<text transform="translate(967.0,233.0) scale(0.905,1)" class="ss">GE-94X</text>
<rect x="168.5" y="292.5" width="50" height="22" rx="11" fill="#f3caac" stroke="#111"/>
<text transform="translate(192.0,303.0) scale(0.905,1)" class="ss">B-XJX4</text>
<text transform="translate(192.0,310.8) scale(0.915,1)" class="st">.-A-. (5)</text>
<rect x="214.5" y="298.5" width="11" height="11" fill="#e01818" stroke="#000"/><path d="M216.7,304.0 L222.7,301.1 L222.7,306.9 Z" fill="#fff" stroke="#000" stroke-width="1"/>
<rect x="68.5" y="327.5" width="50" height="22" rx="11" fill="#f3caac" stroke="#111"/>
<text transform="translate(92.0,338.0) scale(0.905,1)" class="ss">E3-SDZ</text>
<text transform="translate(92.0,345.8) scale(0.915,1)" class="st">.-A-. (5)</text>
<rect x="133.5" y="327.5" width="50" height="22" rx="11" fill="#f3caac" stroke="#111"/>
<text transform="translate(157.0,338.0) scale(0.905,1)" class="ss">AOK-WQ</text>
<text transform="translate(157.0,345.8) scale(0.915,1)" class="st">.-A-. (5)</text>
<rect x="179.5" y="333.5" width="11" height="11" fill="#ffd820" stroke="#000"/><path d="M181.7,339.0 L187.7,336.1 L187.7,341.9 Z" fill="#fff" stroke="#000" stroke-width="1"/>
<rect x="203.5" y="327.5" width="50" height="22" rx="11" fill="#ffffff" stroke="#111"/>
<text transform="translate(227.0,338.0) scale(0.905,1)" class="ss">E1-4YH</text>
<rect x="168.5" y="362.5" width="50" height="22" rx="11" fill="#ffffff" stroke="#111"/>
<text transform="translate(192.0,373.0) scale(0.905,1)" class="ss">7LHB-Z</text>
<rect x="263.5" y="327.5" width="50" height="22" rx="11" fill="#ffffff" stroke="#111"/>
<text transform="translate(287.0,338.0) scale(0.905,1)" class="ss">MUXX-4</text>
<rect x="278.5" y="362.5" width="50" height="22" rx="11" fill="#ffffff" stroke="#111"/>
<text transform="translate(302.0,373.0) scale(0.905,1)" class="ss">AX-DOT</text>
<rect x="398.5" y="292.5" width="50" height="22" rx="11" fill="#ffffff" stroke="#111"/>
<text transform="translate(422.0,303.0) scale(0.905,1)" class="ss">U-QVWD</text>
<rect x="398.5" y="337.5" width="50" height="22" rx="11" fill="#ffffff" stroke="#111"/>
<text transform="translate(422.0,348.0) scale(0.905,1)" class="ss">B-3QPD</text>
<rect x="398.5" y="382.5" width="50" height="22" rx="11" fill="#e2ecd6" stroke="#111"/>
<text transform="translate(422.0,393.0) scale(0.905,1)" class="ss">V-3YG7</text>
<text transform="translate(422.0,400.8) scale(0.915,1)" class="st">INIT. (0)</text>
<rect x="444.5" y="388.5" width="11" height="11" fill="#ffd820" stroke="#000"/><path d="M446.7,394.0 L452.7,391.1 L452.7,396.9 Z" fill="#fff" stroke="#000" stroke-width="1"/>
<rect x="573.5" y="287.5" width="50" height="22" rx="11" fill="#e2ecd6" stroke="#111"/>
<text transform="translate(597.0,298.0) scale(0.905,1)" class="ss">9-8GBA</text>
<text transform="translate(597.0,305.8) scale(0.915,1)" class="st">INIT. (2)</text>
<rect x="625.5" y="329.5" width="56" height="28" rx="14" fill="#fff" stroke="#3f8fe2" stroke-width="1.2"/>
<rect x="628.5" y="332.5" width="50" height="22" rx="11" fill="#e2ecd6" stroke="#111"/>
<text transform="translate(652.0,343.0) scale(0.905,1)" class="ss">KDF-GY</text>
<text transform="translate(652.0,350.8) scale(0.915,1)" class="st">INIT. (2)</text>
<rect x="674.5" y="338.5" width="11" height="11" fill="#28e628" stroke="#000"/><path d="M676.7,344.0 L682.7,341.1 L682.7,346.9 Z" fill="#fff" stroke="#000" stroke-width="1"/>
<rect x="713.5" y="332.5" width="50" height="22" rx="11" fill="#e2ecd6" stroke="#111"/>
<text transform="translate(737.0,343.0) scale(0.905,1)" class="ss">ZXIC-7</text>
<text transform="translate(737.0,350.8) scale(0.915,1)" class="st">INIT. (1)</text>
<rect x="759.5" y="338.5" width="11" height="11" fill="#ffd820" stroke="#000"/><path d="M761.7,344.0 L767.7,341.1 L767.7,346.9 Z" fill="#fff" stroke="#000" stroke-width="1"/>
<rect x="818.5" y="287.5" width="50" height="22" rx="11" fill="#ffc4cc" stroke="#111"/>
<text transform="translate(842.0,298.0) scale(0.905,1)" class="ss">VA6-DR</text>
<text transform="translate(842.0,305.8) scale(0.915,1)" class="st">IAC (0)</text>
<rect x="888.5" y="287.5" width="50" height="22" rx="11" fill="#ffc4cc" stroke="#111"/>
<text transform="translate(912.0,298.0) scale(0.905,1)" class="ss">K0CN-3</text>
<text transform="translate(912.0,305.8) scale(0.915,1)" class="st">IAC (0)</text>
<rect x="958.5" y="287.5" width="50" height="22" rx="11" fill="#f3caac" stroke="#111"/>
<text transform="translate(982.0,298.0) scale(0.905,1)" class="ss">L7XS-5</text>
<text transform="translate(982.0,305.8) scale(0.915,1)" class="st">.-A-. (5)</text>
<rect x="815.5" y="329.5" width="56" height="28" rx="14" fill="#fff" stroke="#3f8fe2" stroke-width="1.2"/>
<rect x="818.5" y="332.5" width="50" height="22" rx="11" fill="#e2ecd6" stroke="#111"/>
<text transform="translate(842.0,343.0) scale(0.905,1)" class="ss">F4R2-Q</text>
<text transform="translate(842.0,350.8) scale(0.915,1)" class="st">INIT. (1)</text>
<rect x="864.5" y="338.5" width="11" height="11" fill="#28e628" stroke="#000"/><path d="M866.7,344.0 L872.7,341.1 L872.7,346.9 Z" fill="#fff" stroke="#000" stroke-width="1"/>
<rect x="888.5" y="332.5" width="50" height="22" rx="11" fill="#ffc4cc" stroke="#111"/>
<text transform="translate(912.0,343.0) scale(0.905,1)" class="ss">1P-WGB</text>
<text transform="translate(912.0,350.8) scale(0.915,1)" class="st">IAC (1)</text>
<rect x="818.5" y="377.5" width="50" height="22" rx="11" fill="#dde9fa" stroke="#111"/>
<text transform="translate(842.0,388.0) scale(0.905,1)" class="ss">WLAR-J</text>
<text transform="translate(842.0,395.8) scale(0.915,1)" class="st">USHRA (3)</text>
<rect x="290.5" y="399.5" width="56" height="28" rx="14" fill="#fff" stroke="#3f8fe2" stroke-width="1.2"/>
<rect x="293.5" y="402.5" width="50" height="22" rx="11" fill="#e2ecd6" stroke="#111"/>
<text transform="translate(317.0,413.0) scale(0.905,1)" class="ss">GE-8JV</text>
<text transform="translate(317.0,420.8) scale(0.915,1)" class="st">INIT. (2)</text>
<rect x="339.5" y="408.5" width="11" height="11" fill="#28e628" stroke="#000"/><path d="M341.7,414.0 L347.7,411.1 L347.7,416.9 Z" fill="#fff" stroke="#000" stroke-width="1"/>
<rect x="218.5" y="412.5" width="50" height="22" rx="11" fill="#e2ecd6" stroke="#111"/>
<text transform="translate(242.0,423.0) scale(0.905,1)" class="ss">3-OKDA</text>
<text transform="translate(242.0,430.8) scale(0.915,1)" class="st">INIT. (0)</text>
<rect x="264.5" y="418.5" width="11" height="11" fill="#ffd820" stroke="#000"/><path d="M266.7,424.0 L272.7,421.1 L272.7,426.9 Z" fill="#fff" stroke="#000" stroke-width="1"/>
<rect x="128.5" y="422.5" width="50" height="22" rx="11" fill="#e2ecd6" stroke="#111"/>
<text transform="translate(152.0,433.0) scale(0.905,1)" class="ss">MY-W1V</text>
<text transform="translate(152.0,440.8) scale(0.915,1)" class="st">INIT. (0)</text>
<rect x="174.5" y="428.5" width="11" height="11" fill="#ffd820" stroke="#000"/><path d="M176.7,434.0 L182.7,431.1 L182.7,436.9 Z" fill="#fff" stroke="#000" stroke-width="1"/>
<rect x="318.5" y="442.5" width="50" height="22" rx="11" fill="#e2ecd6" stroke="#111"/>
<text transform="translate(342.0,453.0) scale(0.905,1)" class="ss">YHN-3K</text>
<text transform="translate(342.0,460.8) scale(0.915,1)" class="st">INIT. (0)</text>
<rect x="364.5" y="448.5" width="11" height="11" fill="#e01818" stroke="#000"/><path d="M366.7,454.0 L372.7,451.1 L372.7,456.9 Z" fill="#fff" stroke="#000" stroke-width="1"/>
<rect x="245.5" y="449.5" width="56" height="28" rx="14" fill="#fff" stroke="#3f8fe2" stroke-width="1.2"/>
<rect x="248.5" y="452.5" width="50" height="22" rx="11" fill="#f3caac" stroke="#111"/>
<text transform="translate(272.0,463.0) scale(0.905,1)" class="ss">3GD6-8</text>
<text transform="translate(272.0,470.8) scale(0.915,1)" class="st">.-A-. (5)</text>
<rect x="294.5" y="458.5" width="11" height="11" fill="#0a0ac8" stroke="#000"/><path d="M296.7,464.0 L302.7,461.1 L302.7,466.9 Z" fill="#fff" stroke="#000" stroke-width="1"/>
<rect x="178.5" y="452.5" width="50" height="22" rx="11" fill="#f3caac" stroke="#111"/>
<text transform="translate(202.0,463.0) scale(0.905,1)" class="ss">4M-HGL</text>
<text transform="translate(202.0,470.8) scale(0.915,1)" class="st">.-A-. (5)</text>
<rect x="73.5" y="452.5" width="50" height="22" rx="11" fill="#f3caac" stroke="#111"/>
<text transform="translate(97.0,463.0) scale(0.905,1)" class="ss">8B-2YA</text>
<text transform="translate(97.0,470.8) scale(0.915,1)" class="st">.-A-. (5)</text>
<rect x="5.5" y="459.5" width="56" height="28" rx="14" fill="#fff" stroke="#3f8fe2" stroke-width="1.2"/>
<rect x="8.5" y="462.5" width="50" height="22" rx="11" fill="#f3caac" stroke="#111"/>
<text transform="translate(32.0,473.0) scale(0.905,1)" class="ss">HP-64T</text>
<text transform="translate(32.0,480.8) scale(0.915,1)" class="st">.-A-. (5)</text>
<rect x="48.5" y="507.5" width="50" height="22" rx="11" fill="#ffffff" stroke="#111"/>
<text transform="translate(72.0,518.0) scale(0.905,1)" class="ss">SNFV-I</text>
<rect x="8.5" y="552.5" width="50" height="22" rx="11" fill="#f3caac" stroke="#111"/>
<text transform="translate(32.0,563.0) scale(0.905,1)" class="ss">V2-VC2</text>
<text transform="translate(32.0,570.8) scale(0.915,1)" class="st">.-A-. (5)</text>
<path d="M54.5,558.5 L65.5,558.5 L62.5,561.5 L57.5,561.5 Z" fill="#fff"/><path d="M65.5,558.5 L65.5,569.5 L62.5,566.5 L62.5,561.5 Z" fill="#28e628"/><path d="M65.5,569.5 L54.5,569.5 L57.5,566.5 L62.5,566.5 Z" fill="#ffd820"/><path d="M54.5,569.5 L54.5,558.5 L57.5,561.5 L57.5,566.5 Z" fill="#0a0ac8"/><rect x="54.5" y="558.5" width="11" height="11" fill="none" stroke="#000"/><rect x="57.5" y="561.5" width="5" height="5" fill="#fff" stroke="#000"/>
<rect x="88.5" y="552.5" width="50" height="22" rx="11" fill="#ffffff" stroke="#111"/>
<text transform="translate(112.0,563.0) scale(0.905,1)" class="ss">CX65-5</text>
<rect x="8.5" y="587.5" width="50" height="22" rx="11" fill="#ffffff" stroke="#111"/>
<text transform="translate(32.0,598.0) scale(0.905,1)" class="ss">L-B55M</text>
<rect x="88.5" y="587.5" width="50" height="22" rx="11" fill="#ffffff" stroke="#111"/>
<text transform="translate(112.0,598.0) scale(0.905,1)" class="ss">JA-O6J</text>
<rect x="8.5" y="622.5" width="50" height="22" rx="11" fill="#f3caac" stroke="#111"/>
<text transform="translate(32.0,633.0) scale(0.905,1)" class="ss">K717-8</text>
<text transform="translate(32.0,640.8) scale(0.915,1)" class="st">.-A-. (5)</text>
<rect x="88.5" y="622.5" width="50" height="22" rx="11" fill="#d6d6f4" stroke="#111"/>
<text transform="translate(112.0,633.0) scale(0.905,1)" class="ss">5-N2EY</text>
<text transform="translate(112.0,640.8) scale(0.915,1)" class="st">-IT- (1)</text>
<path d="M134.5,628.5 L145.5,628.5 L142.5,631.5 L137.5,631.5 Z" fill="#e41414"/><path d="M145.5,628.5 L145.5,639.5 L142.5,636.5 L142.5,631.5 Z" fill="#28e628"/><path d="M145.5,639.5 L134.5,639.5 L137.5,636.5 L142.5,636.5 Z" fill="#fff"/><path d="M134.5,639.5 L134.5,628.5 L137.5,631.5 L137.5,636.5 Z" fill="#fff"/><rect x="134.5" y="628.5" width="11" height="11" fill="none" stroke="#000"/><rect x="137.5" y="631.5" width="5" height="5" fill="#fff" stroke="#000"/>
<rect x="48.5" y="662.5" width="50" height="22" rx="11" fill="#ffffff" stroke="#111"/>
<text transform="translate(72.0,673.0) scale(0.905,1)" class="ss">NH-1X6</text>
<rect x="98.5" y="687.5" width="50" height="22" rx="11" fill="#ffffff" stroke="#111"/>
<text transform="translate(122.0,698.0) scale(0.905,1)" class="ss">KH0Z-0</text>
<rect x="163.5" y="677.5" width="50" height="22" rx="11" fill="#ffffff" stroke="#111"/>
<text transform="translate(187.0,688.0) scale(0.905,1)" class="ss">KB-U56</text>
<rect x="223.5" y="652.5" width="50" height="22" rx="11" fill="#ffffff" stroke="#111"/>
<text transform="translate(247.0,663.0) scale(0.905,1)" class="ss">JGW-OT</text>
<rect x="280.5" y="619.5" width="56" height="28" rx="14" fill="#fff" stroke="#3f8fe2" stroke-width="1.2"/>
<rect x="283.5" y="622.5" width="50" height="22" rx="11" fill="#ffffff" stroke="#111"/>
<text transform="translate(307.0,633.0) scale(0.905,1)" class="ss">UCG4-B</text>
<rect x="330.5" y="589.5" width="56" height="28" rx="14" fill="#fff" stroke="#3f8fe2" stroke-width="1.2"/>
<rect x="333.5" y="592.5" width="50" height="22" rx="11" fill="#ffffff" stroke="#111"/>
<text transform="translate(357.0,603.0) scale(0.905,1)" class="ss">BUZ-DB</text>
<rect x="388.5" y="557.5" width="50" height="22" rx="11" fill="#ffffff" stroke="#111"/>
<text transform="translate(412.0,568.0) scale(0.905,1)" class="ss">QETZ-W</text>
<rect x="443.5" y="527.5" width="50" height="22" rx="11" fill="#ffffff" stroke="#111"/>
<text transform="translate(467.0,538.0) scale(0.905,1)" class="ss">Q-U96U</text>
<rect x="440.5" y="469.5" width="56" height="28" rx="14" fill="#fff" stroke="#3f8fe2" stroke-width="1.2"/>
<rect x="443.5" y="472.5" width="50" height="22" rx="11" fill="#ffffff" stroke="#111"/>
<text transform="translate(467.0,483.0) scale(0.905,1)" class="ss">EX6-AO</text>
<rect x="443.5" y="417.5" width="50" height="22" rx="11" fill="#e2ecd6" stroke="#111"/>
<text transform="translate(467.0,428.0) scale(0.905,1)" class="ss">HY-RWO</text>
<text transform="translate(467.0,435.8) scale(0.915,1)" class="st">INIT. (0)</text>
<rect x="489.5" y="423.5" width="11" height="11" fill="#0a0ac8" stroke="#000"/><path d="M491.7,429.0 L497.7,426.1 L497.7,431.9 Z" fill="#fff" stroke="#000" stroke-width="1"/>
<rect x="508.5" y="417.5" width="50" height="22" rx="11" fill="#ffffff" stroke="#111"/>
<text transform="translate(532.0,428.0) scale(0.905,1)" class="ss">6X7-JO</text>
<rect x="578.5" y="417.5" width="50" height="22" rx="11" fill="#aac4f0" stroke="#111"/>
<text transform="translate(602.0,428.0) scale(0.905,1)" class="ss">A-803L</text>
<text transform="translate(602.0,435.8) scale(0.915,1)" class="st">ENGRE (5)</text>
<rect x="648.5" y="417.5" width="50" height="22" rx="11" fill="#aac4f0" stroke="#111"/>
<text transform="translate(672.0,428.0) scale(0.905,1)" class="ss">I-8D0G</text>
<text transform="translate(672.0,435.8) scale(0.915,1)" class="st">ENGRE (4)</text>
<rect x="713.5" y="417.5" width="50" height="22" rx="11" fill="#e2ecd6" stroke="#111"/>
<text transform="translate(737.0,428.0) scale(0.905,1)" class="ss">WQH-4K</text>
<text transform="translate(737.0,435.8) scale(0.915,1)" class="st">INIT. (2)</text>
<rect x="578.5" y="467.5" width="50" height="22" rx="11" fill="#e2ecd6" stroke="#111"/>
<text transform="translate(602.0,478.0) scale(0.905,1)" class="ss">GJ0-OJ</text>
<text transform="translate(602.0,485.8) scale(0.915,1)" class="st">INIT. (1)</text>
<rect x="624.5" y="473.5" width="11" height="11" fill="#e01818" stroke="#000"/><path d="M626.7,479.0 L632.7,476.1 L632.7,481.9 Z" fill="#fff" stroke="#000" stroke-width="1"/>
<rect x="648.5" y="467.5" width="50" height="22" rx="11" fill="#ffffff" stroke="#111"/>
<text transform="translate(672.0,478.0) scale(0.905,1)" class="ss">Q-S7ZD</text>
<rect x="713.5" y="467.5" width="50" height="22" rx="11" fill="#aac4f0" stroke="#111"/>
<text transform="translate(737.0,478.0) scale(0.905,1)" class="ss">R-K4QY</text>
<text transform="translate(737.0,485.8) scale(0.915,1)" class="st">ENGRE (5)</text>
<rect x="575.5" y="514.5" width="56" height="28" rx="14" fill="#fff" stroke="#3f8fe2" stroke-width="1.2"/>
<rect x="578.5" y="517.5" width="50" height="22" rx="11" fill="#aac4f0" stroke="#111"/>
<text transform="translate(602.0,528.0) scale(0.905,1)" class="ss">JWZ2-V</text>
<text transform="translate(602.0,535.8) scale(0.915,1)" class="st">ENGRE (4)</text>
<rect x="710.5" y="519.5" width="56" height="28" rx="14" fill="#fff" stroke="#3f8fe2" stroke-width="1.2"/>
<rect x="713.5" y="522.5" width="50" height="22" rx="11" fill="#ffffff" stroke="#111"/>
<text transform="translate(737.0,533.0) scale(0.905,1)" class="ss">OGL8-Q</text>
<rect x="643.5" y="552.5" width="50" height="22" rx="11" fill="#aac4f0" stroke="#111"/>
<text transform="translate(667.0,563.0) scale(0.905,1)" class="ss">J-ODE7</text>
<text transform="translate(667.0,570.8) scale(0.915,1)" class="st">ENGRE (5)</text>
<rect x="815.5" y="484.5" width="56" height="28" rx="14" fill="#fff" stroke="#3f8fe2" stroke-width="1.2"/>
<rect x="818.5" y="487.5" width="50" height="22" rx="11" fill="#e2ecd6" stroke="#111"/>
<text transform="translate(842.0,498.0) scale(0.905,1)" class="ss">MB-NKE</text>
<text transform="translate(842.0,505.8) scale(0.915,1)" class="st">INIT. (1)</text>
<rect x="864.5" y="493.5" width="11" height="11" fill="#0a0ac8" stroke="#000"/><path d="M866.7,499.0 L872.7,496.1 L872.7,501.9 Z" fill="#fff" stroke="#000" stroke-width="1"/>
<rect x="868.5" y="447.5" width="50" height="22" rx="11" fill="#e2ecd6" stroke="#111"/>
<text transform="translate(892.0,458.0) scale(0.905,1)" class="ss">JBY6-F</text>
<text transform="translate(892.0,465.8) scale(0.915,1)" class="st">INIT. (1)</text>
<rect x="914.5" y="453.5" width="11" height="11" fill="#ffd820" stroke="#000"/><path d="M916.7,459.0 L922.7,456.1 L922.7,461.9 Z" fill="#fff" stroke="#000" stroke-width="1"/>
<rect x="953.5" y="447.5" width="50" height="22" rx="11" fill="#ffffff" stroke="#111"/>
<text transform="translate(977.0,458.0) scale(0.905,1)" class="ss">FZ-6A5</text>
<rect x="918.5" y="487.5" width="50" height="22" rx="11" fill="#ffffff" stroke="#111"/>
<text transform="translate(942.0,498.0) scale(0.905,1)" class="ss">6-MM99</text>
<rect x="868.5" y="527.5" width="50" height="22" rx="11" fill="#e2ecd6" stroke="#111"/>
<text transform="translate(892.0,538.0) scale(0.905,1)" class="ss">G-7WUF</text>
<text transform="translate(892.0,545.8) scale(0.915,1)" class="st">INIT. (1)</text>
<rect x="914.5" y="533.5" width="11" height="11" fill="#e01818" stroke="#000"/><path d="M916.7,539.0 L922.7,536.1 L922.7,541.9 Z" fill="#fff" stroke="#000" stroke-width="1"/>
<rect x="953.5" y="527.5" width="50" height="22" rx="11" fill="#e2ecd6" stroke="#111"/>
<text transform="translate(977.0,538.0) scale(0.905,1)" class="ss">RNF-YH</text>
<text transform="translate(977.0,545.8) scale(0.915,1)" class="st">INIT. (2)</text>
<rect x="999.5" y="533.5" width="11" height="11" fill="#ffd820" stroke="#000"/><path d="M1001.7,539.0 L1007.7,536.1 L1007.7,541.9 Z" fill="#fff" stroke="#000" stroke-width="1"/>
<rect x="493.5" y="557.5" width="50" height="22" rx="11" fill="#f3caac" stroke="#111"/>
<text transform="translate(517.0,568.0) scale(0.905,1)" class="ss">X4-WL0</text>
<text transform="translate(517.0,575.8) scale(0.915,1)" class="st">.-A-. (5)</text>
<rect x="443.5" y="592.5" width="50" height="22" rx="11" fill="#ffffff" stroke="#111"/>
<text transform="translate(467.0,603.0) scale(0.905,1)" class="ss">WFC-MY</text>
<rect x="543.5" y="592.5" width="50" height="22" rx="11" fill="#ffffff" stroke="#111"/>
<text transform="translate(567.0,603.0) scale(0.905,1)" class="ss">W-MPTH</text>
<rect x="493.5" y="627.5" width="50" height="22" rx="11" fill="#ffffff" stroke="#111"/>
<text transform="translate(517.0,638.0) scale(0.905,1)" class="ss">4NBN-9</text>
<rect x="493.5" y="682.5" width="50" height="22" rx="11" fill="#e2ecd6" stroke="#111"/>
<text transform="translate(517.0,693.0) scale(0.905,1)" class="ss">CZK-ZQ</text>
<text transform="translate(517.0,700.8) scale(0.915,1)" class="st">INIT. (1)</text>
<rect x="539.5" y="688.5" width="11" height="11" fill="#28e628" stroke="#000"/><path d="M541.7,694.0 L547.7,691.1 L547.7,696.9 Z" fill="#fff" stroke="#000" stroke-width="1"/>
<rect x="258.5" y="712.5" width="50" height="22" rx="11" fill="#ffffff" stroke="#111"/>
<text transform="translate(282.0,723.0) scale(0.905,1)" class="ss">6BPS-T</text>
<rect x="338.5" y="712.5" width="50" height="22" rx="11" fill="#ffffff" stroke="#111"/>
<text transform="translate(362.0,723.0) scale(0.905,1)" class="ss">Y-PNRL</text>
<rect x="405.5" y="729.5" width="56" height="28" rx="14" fill="#fff" stroke="#3f8fe2" stroke-width="1.2"/>
<rect x="408.5" y="732.5" width="50" height="22" rx="11" fill="#ffffff" stroke="#111"/>
<text transform="translate(432.0,743.0) scale(0.905,1)" class="ss">CNC-4V</text>
<rect x="258.5" y="752.5" width="50" height="22" rx="11" fill="#d6d6f4" stroke="#111"/>
<text transform="translate(282.0,763.0) scale(0.905,1)" class="ss">25S-6P</text>
<text transform="translate(282.0,770.8) scale(0.915,1)" class="st">-IT- (2)</text>
<rect x="304.5" y="758.5" width="11" height="11" fill="#e01818" stroke="#000"/><path d="M306.7,764.0 L312.7,761.1 L312.7,766.9 Z" fill="#fff" stroke="#000" stroke-width="1"/>
<rect x="338.5" y="752.5" width="50" height="22" rx="11" fill="#d6d6f4" stroke="#111"/>
<text transform="translate(362.0,763.0) scale(0.905,1)" class="ss">FAT-6P</text>
<text transform="translate(362.0,770.8) scale(0.915,1)" class="st">-IT- (1)</text>
<path d="M384.5,758.5 L395.5,758.5 L392.5,761.5 L387.5,761.5 Z" fill="#fff"/><path d="M395.5,758.5 L395.5,769.5 L392.5,766.5 L392.5,761.5 Z" fill="#28e628"/><path d="M395.5,769.5 L384.5,769.5 L387.5,766.5 L392.5,766.5 Z" fill="#ffd820"/><path d="M384.5,769.5 L384.5,758.5 L387.5,761.5 L387.5,766.5 Z" fill="#0a0ac8"/><rect x="384.5" y="758.5" width="11" height="11" fill="none" stroke="#000"/><rect x="387.5" y="761.5" width="5" height="5" fill="#fff" stroke="#000"/>
<rect x="98.5" y="752.5" width="50" height="22" rx="11" fill="#ffffff" stroke="#111"/>
<text transform="translate(122.0,763.0) scale(0.905,1)" class="ss">4-07MU</text>
<rect x="173.5" y="752.5" width="50" height="22" rx="11" fill="#ffffff" stroke="#111"/>
<text transform="translate(197.0,763.0) scale(0.905,1)" class="ss">RR-D05</text>
</g>
<path d="M245.3,722.55 a39.75,25.55 0 1,0 79.5,0 a39.75,25.55 0 1,0 -79.5,0 Z M252.65,722.55 a32.4,18.05 0 1,1 64.8,0 a32.4,18.05 0 1,1 -64.8,0 Z" fill="#ed1c24" fill-rule="evenodd" shape-rendering="crispEdges"/>
<path d="M324.0,764.9 a41.75,22.9 0 1,0 83.5,0 a41.75,22.9 0 1,0 -83.5,0 Z M332.1,764.9 a33.65,15.7 0 1,1 67.3,0 a33.65,15.7 0 1,1 -67.3,0 Z" fill="#ed1c24" fill-rule="evenodd" shape-rendering="crispEdges"/>
<path d="M477.1,694.5 a45.25,25.1 0 1,0 90.5,0 a45.25,25.1 0 1,0 -90.5,0 Z M484.55,694.5 a37.8,17.8 0 1,1 75.6,0 a37.8,17.8 0 1,1 -75.6,0 Z" fill="#ed1c24" fill-rule="evenodd" shape-rendering="crispEdges"/>
<rect x="861.5" y="605.5" width="160" height="188" fill="#fff" stroke="#000"/>
<rect x="862.0" y="606.0" width="159" height="19" fill="#ececec"/>
<line x1="861.5" y1="625.5" x2="1021.5" y2="625.5" stroke="#000"/>
<line x1="861.5" y1="773.5" x2="1021.5" y2="773.5" stroke="#000"/>
<text x="941.5" y="619.8" class="lh">Catch</text>
<rect x="871.5" y="633.5" width="50" height="22" rx="11" fill="#fff" stroke="#111"/>
<text transform="translate(895,644) scale(0.905,1)" class="ss">XXXXX</text>
<text transform="translate(895,652.4) scale(0.95,1)" class="ly">YYYYY (Z)</text>
<rect x="917.5" y="639.5" width="11" height="11" fill="#fff" stroke="#000"/>
<path d="M919.7,645 L925.7,642.1 L925.7,647.9 Z" fill="#fff" stroke="#000"/>
<text x="873" y="669.6" class="lt">X</text>
<text x="886.2" y="669.6" class="lt">= System</text>
<text x="873" y="685" class="lt">Y</text>
<text x="886.2" y="685" class="lt">= Alliance</text>
<text x="873" y="700" class="lt">Z</text>
<text x="886.2" y="700" class="lt">= Sov. Lvl</text>
<rect x="870.5" y="709.5" width="11" height="11" fill="#fff" stroke="#000"/>
<path d="M872.7,715 L878.7,712.1 L878.7,717.9 Z" fill="#fff" stroke="#000"/>
<text x="886.2" y="719" class="lt">= Outpost</text>
<rect x="870.5" y="724.5" width="11" height="11" fill="#fff" stroke="#000"/>
<rect x="873.5" y="727.5" width="5" height="5" fill="#fff" stroke="#000"/>
<text x="886.2" y="734" class="lt">= Cq Stat.</text>
<rect x="870.5" y="740.5" width="11" height="11" fill="#fff" stroke="#000"/>
<text x="886.2" y="749.6" class="lt">= NPC Stat.</text>
<ellipse cx="875.8" cy="760.8" rx="7.3" ry="5" fill="none" stroke="#3f8fe2" stroke-width="1.2"/>
<text x="886.2" y="764.3" class="lt">= Icebelt</text>
<rect x="943.5" y="633.5" width="11" height="11" fill="#e01818" stroke="#000"/><path d="M945.7,639.0 L951.7,636.1 L951.7,641.9 Z" fill="#fff" stroke="#000" stroke-width="1"/>
<text x="959" y="643" class="lt">= Refinery</text>
<rect x="943.5" y="648.5" width="11" height="11" fill="#ffd820" stroke="#000"/><path d="M945.7,654.0 L951.7,651.1 L951.7,656.9 Z" fill="#fff" stroke="#000" stroke-width="1"/>
<text x="959" y="658.3" class="lt">= Factory</text>
<rect x="943.5" y="663.5" width="11" height="11" fill="#0a0ac8" stroke="#000"/><path d="M945.7,669.0 L951.7,666.1 L951.7,671.9 Z" fill="#fff" stroke="#000" stroke-width="1"/>
<text x="959" y="673.6" class="lt">= Research</text>
<rect x="943.5" y="679.5" width="11" height="11" fill="#28e628" stroke="#000"/><path d="M945.7,685.0 L951.7,682.1 L951.7,687.9 Z" fill="#fff" stroke="#000" stroke-width="1"/>
<text x="959" y="689" class="lt">= Offices</text>
<rect x="943.5" y="694.5" width="11" height="11" fill="#fff" stroke="#000"/>
<path d="M943.5,694.5 L954.5,694.5 L949,700 Z" fill="#e41414"/>
<rect x="943.5" y="694.5" width="11" height="11" fill="none" stroke="#000"/>
<text x="959" y="704" class="lt">= Refining</text>
<rect x="943.5" y="710.5" width="11" height="11" fill="#fff" stroke="#000"/>
<path d="M943.5,721.5 L954.5,721.5 L949,716 Z" fill="#ffd820"/>
<rect x="943.5" y="710.5" width="11" height="11" fill="none" stroke="#000"/>
<text x="959" y="719.5" class="lt">= Industry</text>
<rect x="943.5" y="725.5" width="11" height="11" fill="#fff" stroke="#000"/>
<path d="M943.5,725.5 L949,731 L943.5,736.5 Z" fill="#0a0ac8"/>
<rect x="943.5" y="725.5" width="11" height="11" fill="none" stroke="#000"/>
<text x="959" y="735" class="lt">= Research</text>
<rect x="943.5" y="740.5" width="11" height="11" fill="#fff" stroke="#000"/>
<path d="M954.5,740.5 L949,746 L954.5,751.5 Z" fill="#28e628"/>
<rect x="943.5" y="740.5" width="11" height="11" fill="none" stroke="#000"/>
<text x="959" y="750" class="lt">= Cloning</text>
<ellipse cx="949" cy="762" rx="7.5" ry="5.4" fill="#ff9cee" stroke="#d42050" stroke-width="1"/>
<text x="959" y="765" class="lt">= Contested</text>
<text x="941.5" y="787" class="lf">© by Wollari &amp; CCP</text>
<line x1="0" y1="799.5" x2="1025" y2="799.5" stroke="#000"/>
</svg>
</body></html>
